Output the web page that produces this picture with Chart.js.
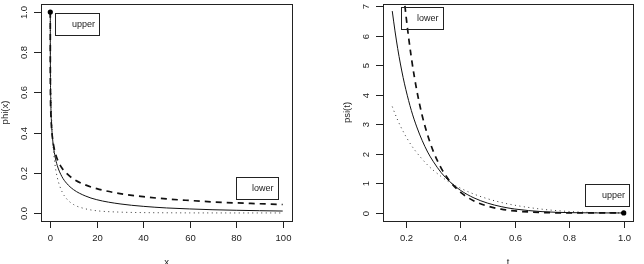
<!DOCTYPE html>
<html>
<head>
<meta charset="utf-8">
<script src="https://cdn.jsdelivr.net/npm/chart.js@4.4.1/dist/chart.umd.min.js"></script>
<style>
  body { margin: 0; background: #fff; }
  #wrap { display: flex; width: 644px; height: 264px; }
  canvas { display: block; }
</style>
</head>
<body>
<div id="wrap">
  <canvas id="phiChart" width="322" height="264"></canvas>
  <canvas id="psiChart" width="322" height="264"></canvas>
</div>
<script>
// left panel: phi(x)
const phiX      = [0, 0.001, 0.01, 0.05, 0.2, 0.5, 1, 2, 3, 5, 7, 10, 15, 20, 30, 40, 50, 60, 70, 80, 90, 100];
const phiSolid  = [1, 0.905, 0.806, 0.692, 0.557, 0.452, 0.368, 0.284, 0.236, 0.181, 0.148, 0.116, 0.085, 0.066, 0.045, 0.033, 0.025, 0.020, 0.016, 0.0134, 0.0113, 0.0096];
const phiDashed = [1, 0.837, 0.729, 0.623, 0.512, 0.431, 0.368, 0.305, 0.268, 0.224, 0.197, 0.169, 0.140, 0.121, 0.096, 0.081, 0.070, 0.062, 0.055, 0.050, 0.046, 0.042];
const phiDotted = [1, 0.969, 0.905, 0.800, 0.639, 0.493, 0.368, 0.243, 0.177, 0.107, 0.071, 0.042, 0.021, 0.011, 0.0042, 0.0018, 0.0009, 0.0004, 0.0002, 0.0001, 0.0001, 0];
const phiDotX = [0];
const phiDotY = [1];
const phiXTicks = [0, 20, 40, 60, 80, 100];
const phiXLabels = ['0', '20', '40', '60', '80', '100'];
const phiYTicks = [0, 0.2, 0.4, 0.6, 0.8, 1.0];
const phiYLabels = ['0.0', '0.2', '0.4', '0.6', '0.8', '1.0'];

// right panel: psi(t)
const psiT      = [0.15, 0.16, 0.17, 0.18, 0.19, 0.20, 0.22, 0.24, 0.26, 0.28, 0.30, 0.33, 0.36, 0.40, 0.45, 0.50, 0.55, 0.60, 0.70, 0.80, 0.90, 1.00];
const psiSolid  = [6.83, 6.16, 5.56, 5.04, 4.58, 4.17, 3.47, 2.91, 2.45, 2.06, 1.75, 1.36, 1.07, 0.769, 0.509, 0.333, 0.214, 0.133, 0.045, 0.011, 0.001, 0];
const psiDashed = [12.95, 11.28, 9.86, 8.65, 7.61, 6.71, 5.26, 4.15, 3.29, 2.63, 2.10, 1.51, 1.09, 0.705, 0.407, 0.231, 0.128, 0.068, 0.016, 0.0025, 0.0001, 0];
const psiDotted = [3.60, 3.36, 3.14, 2.94, 2.76, 2.59, 2.29, 2.04, 1.82, 1.62, 1.45, 1.23, 1.04, 0.840, 0.638, 0.480, 0.357, 0.261, 0.127, 0.050, 0.011, 0];
const psiDotX = [1.0];
const psiDotY = [0];
const psiXTicks = [0.2, 0.4, 0.6, 0.8, 1.0];
const psiXLabels = ['0.2', '0.4', '0.6', '0.8', '1.0'];
const psiYTicks = [0, 1, 2, 3, 4, 5, 6, 7];
const psiYLabels = ['0', '1', '2', '3', '4', '5', '6', '7'];

const FONT = '"Liberation Sans", Arial, Helvetica, sans-serif';

function pts(xs, ys) {
  return xs.map((x, i) => ({ x: x, y: ys[i] }));
}

// R style box, ticks, labels and legend boxes
const rFrame = {
  id: 'rFrame',
  afterDatasetsDraw(chart, args, o) {
    const ctx = chart.ctx, a = chart.chartArea;
    const xs = chart.scales.x, ys = chart.scales.y;
    ctx.save();
    ctx.strokeStyle = '#222';
    ctx.fillStyle = '#222';
    ctx.lineWidth = 1;
    ctx.strokeRect(Math.round(a.left) + 0.5, Math.round(a.top) + 0.5, Math.round(a.width), Math.round(a.height));

    ctx.font = '9.5px ' + FONT;
    ctx.textAlign = 'center';
    ctx.textBaseline = 'middle';
    o.xTicks.forEach((v, i) => {
      const px = Math.round(xs.getPixelForValue(v)) + 0.5;
      ctx.beginPath(); ctx.moveTo(px, a.bottom); ctx.lineTo(px, a.bottom + 7); ctx.stroke();
      ctx.fillText(o.xLabels[i], px, a.bottom + 17);
    });
    o.yTicks.forEach((v, i) => {
      const py = Math.round(ys.getPixelForValue(v)) + 0.5;
      ctx.beginPath(); ctx.moveTo(a.left, py); ctx.lineTo(a.left - 7, py); ctx.stroke();
      ctx.save();
      ctx.translate(a.left - 17, py);
      ctx.rotate(-Math.PI / 2);
      ctx.fillText(o.yLabels[i], 0, 0);
      ctx.restore();
    });

    // axis titles
    ctx.fillText(o.xTitle, (a.left + a.right) / 2, a.bottom + 41);
    ctx.save();
    ctx.translate(a.left - 36, (a.top + a.bottom) / 2);
    ctx.rotate(-Math.PI / 2);
    ctx.fillText(o.yTitle, 0, 0);
    ctx.restore();

    // legend boxes (text only, no symbols)
    ctx.font = '9px ' + FONT;
    ctx.textAlign = 'left';
    o.boxes.forEach(b => {
      const bx = b.right !== undefined ? a.right - b.right : a.left + b.left;
      const by = b.bottom !== undefined ? a.bottom - b.bottom : a.top + b.top;
      ctx.strokeRect(Math.round(bx) + 0.5, Math.round(by) + 0.5, b.w, b.h);
      ctx.fillText(b.text, bx + b.tx, by + b.h / 2 + 0.5);
    });
    ctx.restore();
  }
};

function makePanel(id, d) {
  new Chart(document.getElementById(id), {
    type: 'scatter',
    data: {
      datasets: [
        { data: pts(d.dotX, d.dotY), showLine: false, pointRadius: 2.6, pointBackgroundColor: '#000', pointBorderWidth: 0 },
        { data: pts(d.x, d.solid), showLine: true, borderColor: '#111', borderWidth: 1, pointRadius: 0, cubicInterpolationMode: 'monotone', clip: 0 },
        { data: pts(d.x, d.dashed), showLine: true, borderColor: '#111', borderWidth: 1.7, borderDash: [6, 5], pointRadius: 0, cubicInterpolationMode: 'monotone', clip: 0 },
        { data: pts(d.x, d.dotted), showLine: true, borderColor: '#333', borderWidth: 1, borderDash: [1, 3.5], pointRadius: 0, cubicInterpolationMode: 'monotone', clip: 0 }
      ]
    },
    options: {
      responsive: false,
      animation: false,
      devicePixelRatio: 1,
      layout: { padding: d.padding },
      plugins: {
        legend: { display: false },
        tooltip: { enabled: false },
        rFrame: d.frame
      },
      scales: {
        x: { type: 'linear', display: false, min: d.xMin, max: d.xMax },
        y: { type: 'linear', display: false, min: d.yMin, max: d.yMax }
      }
    },
    plugins: [rFrame]
  });
}

makePanel('phiChart', {
  x: phiX, solid: phiSolid, dashed: phiDashed, dotted: phiDotted,
  dotX: phiDotX, dotY: phiDotY,
  xMin: -4, xMax: 104, yMin: -0.04, yMax: 1.04,
  padding: { left: 41, right: 30, top: 4, bottom: 43 },
  frame: {
    xTicks: phiXTicks, xLabels: phiXLabels, yTicks: phiYTicks, yLabels: phiYLabels,
    xTitle: 'x', yTitle: 'phi(x)',
    boxes: [
      { text: 'upper', left: 14, top: 9, w: 44, h: 22, tx: 17 },
      { text: 'lower', right: 56, bottom: 44, w: 42, h: 22, tx: 16 }
    ]
  }
});

makePanel('psiChart', {
  x: psiT, solid: psiSolid, dashed: psiDashed, dotted: psiDotted,
  dotX: psiDotX, dotY: psiDotY,
  xMin: 0.116, xMax: 1.034, yMin: -0.272, yMax: 7.07,
  padding: { left: 61, right: 11, top: 4, bottom: 43 },
  frame: {
    xTicks: psiXTicks, xLabels: psiXLabels, yTicks: psiYTicks, yLabels: psiYLabels,
    xTitle: 't', yTitle: 'psi(t)',
    boxes: [
      { text: 'lower', left: 18, top: 3, w: 42, h: 22, tx: 16 },
      { text: 'upper', right: 48, bottom: 37, w: 44, h: 22, tx: 17 }
    ]
  }
});
</script>
</body>
</html>
